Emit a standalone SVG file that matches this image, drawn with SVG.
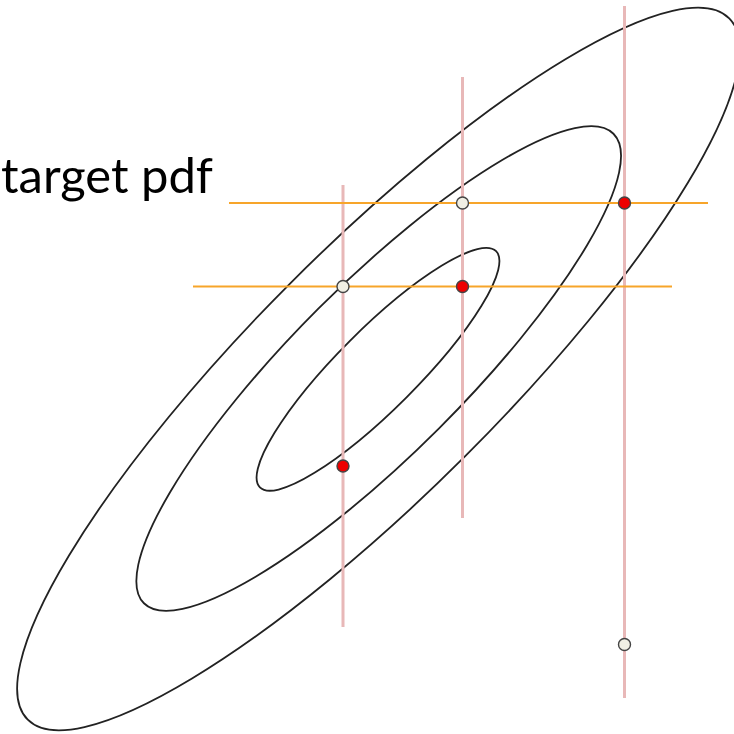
<svg xmlns="http://www.w3.org/2000/svg" width="734" height="734" viewBox="0 0 734 734">
<style>
.ell{fill:none;stroke:#222;stroke-width:1.8}
.vline{stroke:#e8b8b8;stroke-width:3}
.hline{stroke:#f7a52a;stroke-width:2}
.pw{fill:#f0efe4;stroke:#444;stroke-width:1.4}
.pr{fill:#ee0000;stroke:#444;stroke-width:1.4}
.lbl{font-family:Lato,"Open Sans","Liberation Sans",sans-serif;font-size:49px;fill:#000}
</style>
<rect width="734" height="734" fill="#fff"/>
<g id="contours">
<ellipse class="ell" cx="378.5" cy="369" rx="496" ry="123" transform="rotate(-45 378.5 369)"/>
<ellipse class="ell" cx="378.7" cy="368.5" rx="332" ry="85" transform="rotate(-45 378.7 368.5)"/>
<ellipse class="ell" cx="378" cy="369.3" rx="167" ry="40" transform="rotate(-45 378 369.3)"/>
</g>
<g id="connectors">
<line class="vline" x1="343" y1="185" x2="343" y2="627"/>
<line class="vline" x1="462.5" y1="77" x2="462.5" y2="518"/>
<line class="vline" x1="624.5" y1="6" x2="624.5" y2="698"/>
<line class="hline" x1="229" y1="203" x2="708" y2="203"/>
<line class="hline" x1="193" y1="286.5" x2="672" y2="286.5"/>
</g>
<g id="points">
<circle class="pw" cx="462.5" cy="203" r="6"/>
<circle class="pr" cx="624.5" cy="203" r="6"/>
<circle class="pw" cx="343" cy="286.5" r="6"/>
<circle class="pr" cx="462.5" cy="286.5" r="6"/>
<circle class="pr" cx="343" cy="466" r="6"/>
<circle class="pw" cx="624.5" cy="644.5" r="6"/>
</g>
<g id="label">
<text class="lbl" x="1" y="193" textLength="212" lengthAdjust="spacingAndGlyphs">target pdf</text>
</g>
</svg>
